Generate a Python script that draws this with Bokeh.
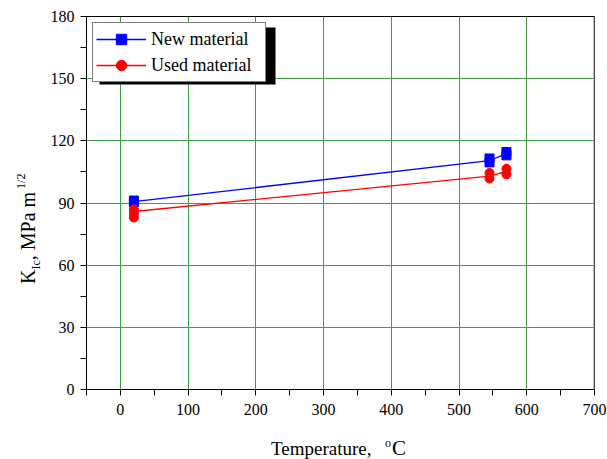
from bokeh.plotting import figure
from bokeh.models import (FixedTicker, Legend, LegendItem, BoxAnnotation, Span, Div)
from bokeh.layouts import row, column
from bokeh.embed import file_html
from bokeh.resources import INLINE

# ---- data ----
new_T = [20, 20, 545, 545, 570, 570]
new_K = [91.2, 90.4, 111.5, 109.6, 114.6, 113.0]
used_T = [20, 20, 20, 545, 545, 570, 570]
used_K = [86.9, 84.9, 83.0, 104.5, 101.8, 106.5, 103.8]

new_line_T = [20, 545, 570]
new_line_K = [90.7, 110.4, 113.8]
used_line_T = [20, 545, 570]
used_line_K = [85.9, 103.0, 105.2]

x_ticks = [0, 100, 200, 300, 400, 500, 600, 700]
x_minor = [-50, 50, 150, 250, 350, 450, 550, 650]
y_ticks = [0, 30, 60, 90, 120, 150, 180]
y_minor = [15, 45, 75, 105, 135, 165]

FONT = "Liberation Serif"
GRID = "#3f9f3f"

p = figure(width=567, height=425, output_backend="svg", toolbar_location=None,
           x_range=(-50, 700), y_range=(0, 180),
           min_border_left=46, min_border_right=13, min_border_top=16,
           min_border_bottom=36)
p.background_fill_color = "white"
p.border_fill_color = "white"
p.outline_line_color = "black"
p.outline_line_width = 1

for ax, ticks, minor in ((p.xaxis[0], x_ticks, x_minor), (p.yaxis[0], y_ticks, y_minor)):
    ax.ticker = FixedTicker(ticks=ticks, minor_ticks=minor)
    ax.major_label_text_font = FONT
    ax.major_label_text_font_size = "16px"
    ax.major_label_text_color = "black"
    ax.axis_line_color = "black"
    ax.major_tick_line_color = "black"
    ax.minor_tick_line_color = "black"
    ax.major_tick_out = 6
    ax.major_tick_in = 0
    ax.minor_tick_out = 6
    ax.minor_tick_in = 0
    ax.axis_label = None
p.xaxis[0].major_label_standoff = 8
p.yaxis[0].major_label_standoff = 6

p.xgrid[0].ticker = FixedTicker(ticks=[0, 100, 200, 300, 400, 500, 600])
p.ygrid[0].ticker = FixedTicker(ticks=[30, 60, 90, 120, 150])
p.xgrid.grid_line_color = GRID
p.ygrid.grid_line_color = GRID
p.xgrid.grid_line_width = 1
p.ygrid.grid_line_width = 1

p.add_layout(Span(location=700, dimension="height", line_color="#888888", line_width=2))

nl = p.line(new_line_T, new_line_K, line_color="#0000ff", line_width=1.3)
ul = p.line(used_line_T, used_line_K, line_color="#ff0000", line_width=1.3)
ns = p.scatter(new_T, new_K, marker="square", size=9, fill_color="#0000ff", line_color="#0000ff")
us = p.scatter(used_T, used_K, marker="circle", size=9, fill_color="#ff0000", line_color="#ff0000")

# legend shadow
p.add_layout(BoxAnnotation(left=13, right=189, top=362, bottom=305,
                           left_units="screen", right_units="screen",
                           top_units="screen", bottom_units="screen",
                           fill_color="black", fill_alpha=1.0, line_color=None))

legend = Legend(items=[LegendItem(label="New material", renderers=[nl, ns]),
                       LegendItem(label="Used material", renderers=[ul, us])],
                location="top_left", margin=6, padding=3, spacing=0,
                glyph_width=50, glyph_height=26, label_height=26, label_width=111,
                label_standoff=5, label_text_font=FONT, label_text_font_size="18px",
                label_text_color="black", border_line_color="black", border_line_width=1,
                background_fill_color="white", background_fill_alpha=1.0)
p.add_layout(legend)

# axis titles as HTML text (sub/superscripts)
y_title = ('<div style="transform: translate(18px, 284px) rotate(-90deg); transform-origin: 0 0; '
           'white-space: nowrap; font-family: \'Liberation Serif\'; font-size: 20px; '
           'line-height: 20px; color: black;">K<span style="font-size: 12px; position: relative; '
           'top: 5px;">Ic</span>, MPa m<span style="font-size: 12px; position: relative; '
           'top: -10px; margin-left: 3px;">1/2</span></div>')
x_title = ('<div style="transform: translate(271px, 14px); white-space: nowrap; '
           'font-family: \'Liberation Serif\'; font-size: 19px; line-height: 19px; color: black;">'
           'Temperature,&nbsp;&nbsp;<span style="font-size: 12px; position: relative; top: -8px; '
           'margin-left: 4px; margin-right: 1px;">o</span><span style="font-size: 21px;">C</span></div>')

ydiv = Div(text=y_title, width=40, height=425, margin=0, styles={"overflow": "visible"})
xdiv = Div(text=x_title, width=607, height=34, margin=0, styles={"overflow": "visible"})

layout = column(row(ydiv, p, spacing=0), xdiv, spacing=0)

open("out.html", "w").write(file_html(layout, INLINE))
